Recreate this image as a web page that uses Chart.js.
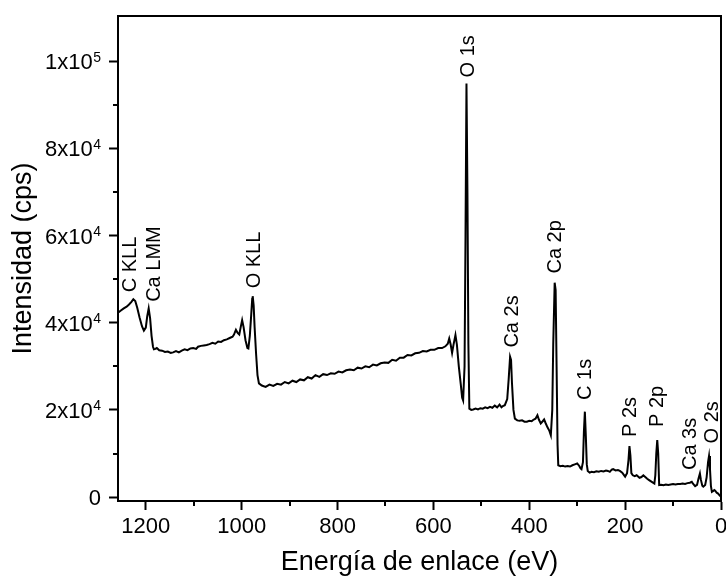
<!DOCTYPE html>
<html>
<head>
<meta charset="utf-8">
<script src="https://cdn.jsdelivr.net/npm/chart.js@4"></script>
<style>
  html, body { margin: 0; padding: 0; background: #fff; }
  #wrap { width: 726px; height: 582px; }
</style>
</head>
<body>
<div id="wrap"><canvas id="grafico"></canvas></div>
<script>
// Espectro XPS (survey): energía de enlace (eV) e intensidad (cps)
var ENERGIA = [
  1258, 1252, 1246, 1240, 1235, 1230, 1226, 1222, 1218, 1213,
  1208, 1204, 1200, 1197, 1194, 1191, 1188, 1185, 1183, 1180,
  1177, 1172, 1166, 1160, 1154, 1148, 1143, 1137, 1131, 1125,
  1119, 1113, 1107, 1101, 1095, 1091, 1085, 1079, 1073, 1067,
  1061, 1055, 1049, 1043, 1037, 1031, 1025, 1019, 1016, 1012,
  1008, 1005, 1002, 999, 996, 992, 988, 986, 983, 980,
  978, 977, 975, 973, 970, 967, 964, 958, 950, 942,
  934, 926, 918, 910, 902, 894, 886, 878, 870, 862,
  854, 846, 838, 830, 822, 814, 806, 798, 790, 782,
  774, 766, 758, 750, 742, 734, 726, 718, 710, 702,
  694, 686, 678, 670, 662, 654, 646, 638, 630, 622,
  614, 606, 598, 590, 582, 575, 570, 567, 564, 561,
  558, 554, 551, 547, 543, 540, 538, 535, 533, 531,
  529, 527, 525, 521, 517, 512, 507, 502, 497, 492,
  487, 482, 477, 472, 467, 462, 458, 455, 451, 446,
  443, 440, 438, 436, 433, 430, 425, 420, 415, 410,
  405, 400, 395, 392, 387, 383, 380, 376, 372, 369,
  366, 362, 358, 355, 352, 350, 347, 345, 343, 341,
  339.5, 335, 330, 325, 320, 315, 310, 305, 300, 296,
  293, 291, 288, 286, 284, 282, 280, 278, 274, 270,
  265, 260, 255, 250, 245, 240, 236, 232, 228, 225,
  220, 215, 211, 206, 202, 200, 196, 193, 191, 189,
  187, 184, 180, 176, 173, 170, 166, 162, 158, 154,
  150, 146, 142, 139, 137, 135, 133, 131, 129, 125,
  120, 115, 110, 105, 100, 95, 90, 85, 80, 75,
  70, 65, 61, 58, 54, 50, 47, 44, 42, 39,
  37, 33, 30, 27, 25, 23, 21, 19, 16, 14,
  12, 9, 6, 3, 0
];
var INTENSIDAD = [
  42300, 42800, 43300, 43700, 44200, 44800, 45400, 45000, 43500, 41200,
  39200, 38200, 38900, 41500, 43300, 41000, 37000, 34500, 33900, 34000,
  34200, 33700, 33600, 33300, 33400, 33100, 33200, 33500, 33200, 33600,
  33900, 33700, 34100, 34200, 34000, 34500, 34700, 34800, 34900, 35100,
  35400, 35200, 35700, 35600, 36000, 36200, 36500, 36800, 37300, 38400,
  37600, 37300, 39000, 40600, 39000, 36000, 34200, 34100, 37000, 42000,
  45500, 46100, 44000, 39000, 33000, 28000, 26100, 25600, 25300, 25800,
  25500, 26000, 25800, 26400, 26100, 26700, 26400, 27000, 26800, 27500,
  27200, 28000, 27600, 28200, 28000, 28400, 28300, 28800, 28600, 29100,
  29300, 29100, 29700, 29500, 30000, 29800, 30400, 30200, 30700, 30900,
  30800, 31500, 31300, 32000, 32000, 32600, 32500, 33000, 33100, 33500,
  33400, 33800, 33800, 34200, 34200, 34600, 35200, 36400, 35000, 33100,
  35000, 37200, 35000, 30000, 26000, 22800, 22200, 30000, 60000, 94900,
  70000, 35000, 20300, 20000, 20100, 20300, 20100, 20400, 20300, 20600,
  20400, 20700, 20500, 21000, 20600, 21200, 20600, 20900, 21100, 22500,
  27000, 32200, 31500, 26000, 20000, 18000, 17600, 17500, 17600, 17300,
  17300, 17500, 17400, 17700, 18000, 18800, 17800, 16900, 17400, 17800,
  17000, 16000, 15200, 14200, 20000, 35000, 49200, 47500, 30000, 12000,
  7300, 7100, 7200, 7000, 7100, 7000, 7300, 7500, 7700, 7200,
  6600, 6400, 8000, 15000, 19600, 14000, 7500, 6000, 5600, 5800,
  5700, 5900, 5800, 6000, 5900, 6100, 6000, 5800, 6300, 6400,
  6100, 6200, 6000, 5600, 5000, 4700, 5500, 8500, 11700, 9500,
  5500, 5000, 4800, 5000, 4700, 4400, 4600, 5000, 4600, 4200,
  3900, 3600, 3300, 3100, 5000, 10000, 13100, 10000, 2750, 2800,
  2700, 2900, 2800, 2900, 3000, 2900, 3000, 3000, 3100, 3000,
  3200, 3300, 3500, 3000, 2500, 2800, 4200, 5400, 4000, 2600,
  2400, 2800, 4500, 8000, 9400, 6500, 2500, 1200, 1400, 1600,
  1450, 1000, 800, 400, 100
];

var X_TICKS = [0, 200, 400, 600, 800, 1000, 1200];
var X_MINOR = [100, 300, 500, 700, 900, 1100];
var Y_TICKS = [0, 20000, 40000, 60000, 80000, 100000];
var Y_TICK_LABELS = ["0", "2x10", "4x10", "6x10", "8x10", "1x10"];
var Y_TICK_EXP = ["", "4", "4", "4", "4", "5"];
var Y_MINOR = [10000, 30000, 50000, 70000, 90000];

// Etiquetas de los picos: texto, energía (eV) y intensidad donde empieza el texto
var PICOS = ["C KLL", "Ca LMM", "O KLL", "O 1s", "Ca 2s", "Ca 2p", "C 1s", "P 2s", "P 2p", "Ca 3s", "O 2s"];
var PICOS_E = [1235, 1186, 977, 531, 439, 348.5, 286, 192, 135.6, 66.8, 20.9];
var PICOS_I = [47000, 44800, 47900, 96300, 34300, 51300, 22300, 13800, 16100, 6200, 12300];

var FUENTE = "'Liberation Sans', Arial, sans-serif";

var extras = {
  id: "extras",
  afterDatasetsDraw: function (chart) {
    var ctx = chart.ctx;
    var a = chart.chartArea;
    var sx = chart.scales.x;
    var sy = chart.scales.y;
    ctx.save();
    ctx.strokeStyle = "#000";
    ctx.lineWidth = 2;
    // marco superior y derecho
    ctx.beginPath();
    ctx.moveTo(a.left, a.top);
    ctx.lineTo(a.right, a.top);
    ctx.lineTo(a.right, a.bottom);
    ctx.stroke();
    // ticks menores
    ctx.beginPath();
    X_MINOR.forEach(function (v) {
      var px = Math.round(sx.getPixelForValue(v));
      ctx.moveTo(px, a.bottom);
      ctx.lineTo(px, a.bottom + 5);
    });
    Y_MINOR.forEach(function (v) {
      var py = Math.round(sy.getPixelForValue(v));
      ctx.moveTo(a.left, py);
      ctx.lineTo(a.left - 5, py);
    });
    ctx.stroke();
    ctx.fillStyle = "#000";
    ctx.textAlign = "left";
    ctx.textBaseline = "alphabetic";
    // etiquetas del eje y con exponente
    var derecha = a.left - 17;
    Y_TICKS.forEach(function (v, i) {
      var py = sy.getPixelForValue(v);
      ctx.font = "22px " + FUENTE;
      var wb = ctx.measureText(Y_TICK_LABELS[i]).width;
      ctx.font = "14px " + FUENTE;
      var we = Y_TICK_EXP[i] ? ctx.measureText(Y_TICK_EXP[i]).width + 0.5 : 0;
      var x0 = derecha - wb - we;
      ctx.font = "22px " + FUENTE;
      ctx.fillText(Y_TICK_LABELS[i], x0, py + 7.9);
      if (Y_TICK_EXP[i]) {
        ctx.font = "14px " + FUENTE;
        ctx.fillText(Y_TICK_EXP[i], x0 + wb + 0.5, py + 0.5);
      }
    });
    // etiquetas de los picos
    ctx.font = "20px " + FUENTE;
    PICOS.forEach(function (t, i) {
      var px = sx.getPixelForValue(PICOS_E[i]);
      var py = sy.getPixelForValue(PICOS_I[i]);
      ctx.save();
      ctx.translate(px + 7.2, py);
      ctx.rotate(-Math.PI / 2);
      ctx.fillText(t, 0, 0);
      ctx.restore();
    });
    ctx.restore();
  }
};

new Chart(document.getElementById("grafico"), {
  type: "line",
  data: {
    datasets: [{
      data: ENERGIA.map(function (e, i) { return { x: e, y: INTENSIDAD[i] }; }),
      borderColor: "#000",
      borderWidth: 2,
      pointRadius: 0,
      tension: 0,
      fill: false,
    }],
  },
  options: {
    responsive: true,
    maintainAspectRatio: false,
    animation: false,
    devicePixelRatio: 1,
    layout: { padding: { left: 0, top: 16, right: 5, bottom: 0 } },
    plugins: { legend: { display: false }, tooltip: { enabled: false } },
    scales: {
      x: {
        type: "linear",
        reverse: true,
        min: 0,
        max: 1258,
        afterBuildTicks: function (s) { s.ticks = X_TICKS.map(function (v) { return { value: v }; }); },
        afterFit: function (s) { s.height = 81; s.paddingLeft = 0; s.paddingRight = 0; },
        ticks: {
          autoSkip: false, maxRotation: 0, padding: 4, color: "#000",
          font: { family: FUENTE, size: 22 },
          callback: function (v) { return String(v); },
        },
        grid: { drawOnChartArea: false, tickLength: 9, tickWidth: 2, tickColor: "#000" },
        border: { display: true, color: "#000", width: 2 },
        title: {
          display: true, text: "Energía de enlace (eV)", color: "#000",
          font: { family: FUENTE, size: 27 }, padding: { top: 0, bottom: 3 },
        },
      },
      y: {
        type: "linear",
        min: -900,
        max: 110400,
        afterBuildTicks: function (s) { s.ticks = Y_TICKS.map(function (v) { return { value: v }; }); },
        afterFit: function (s) { s.width = 118; s.paddingTop = 0; s.paddingBottom = 0; },
        ticks: { display: false },
        grid: { drawOnChartArea: false, tickLength: 9, tickWidth: 2, tickColor: "#000" },
        border: { display: true, color: "#000", width: 2 },
        title: {
          display: true, text: "Intensidad (cps)", color: "#000",
          font: { family: FUENTE, size: 27 }, padding: { top: 7, bottom: 0 },
        },
      },
    },
  },
  plugins: [extras],
});
</script>
</body>
</html>
